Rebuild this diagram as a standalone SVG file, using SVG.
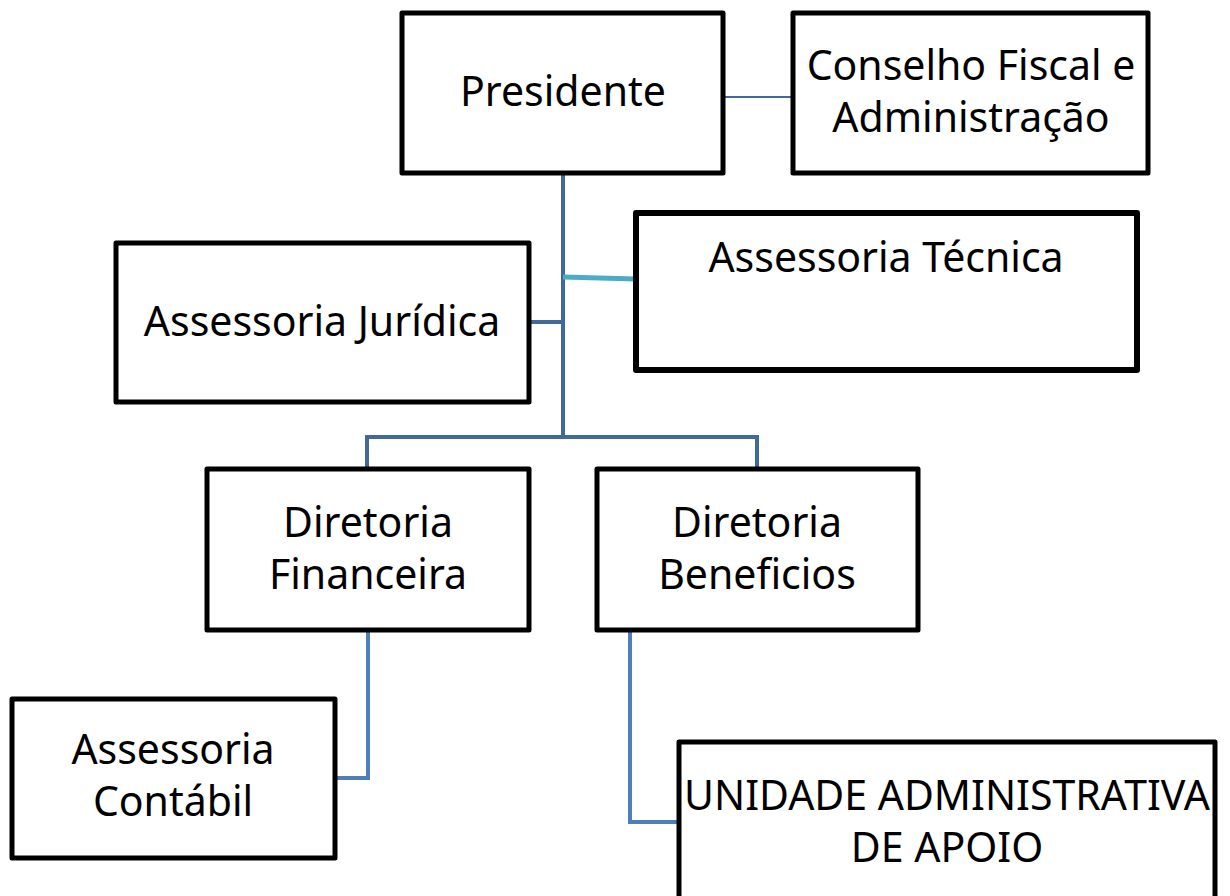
<svg xmlns="http://www.w3.org/2000/svg" width="1230" height="896" viewBox="0 0 1230 896">
<style>
.box{fill:#ffffff;stroke:#000000;stroke-width:5;stroke-linejoin:round}
.lbl{font-family:"Noto Sans","Open Sans",sans-serif;font-size:41px;fill:#000000;text-anchor:middle}
.c1{fill:none;stroke:#41699A;stroke-width:4}
.c2{fill:none;stroke:#4F7FBA;stroke-width:4}
.thin{fill:none;stroke:#41699A;stroke-width:2}
.teal{fill:none;stroke:#4BACC6;stroke-width:5}
</style>
<rect width="1230" height="896" fill="#ffffff"/>
<g id="connectors">
<line class="thin" x1="724" y1="97" x2="793" y2="97"/>
<line class="c1" x1="563" y1="174" x2="563" y2="437"/>
<line class="c1" x1="529" y1="322" x2="563" y2="322"/>
<line class="teal" x1="563" y1="277" x2="636" y2="279"/>
<polyline class="c1" points="367,468 367,437 757,437 757,468"/>
<polyline class="c2" points="368,632 368,778 335,778"/>
<polyline class="c2" points="630,632 630,822 679,822"/>
</g>
<g id="presidente">
<rect class="box" x="402" y="13" width="321" height="160"/>
<text class="lbl" x="563" y="106">Presidente</text>
</g>
<g id="conselho">
<rect class="box" x="793" y="13" width="355" height="160"/>
<text class="lbl" x="971" y="80">Conselho Fiscal e</text>
<text class="lbl" x="971" y="132">Administração</text>
</g>
<g id="juridica">
<rect class="box" x="116" y="243" width="413" height="159"/>
<text class="lbl" x="322" y="336">Assessoria Jurídica</text>
</g>
<g id="tecnica">
<rect class="box" x="636" y="213" width="501" height="157" style="stroke-width:6"/>
<text class="lbl" x="886" y="272">Assessoria Técnica</text>
</g>
<g id="financeira">
<rect class="box" x="207" y="469" width="322" height="161"/>
<text class="lbl" x="368" y="537">Diretoria</text>
<text class="lbl" x="368" y="589">Financeira</text>
</g>
<g id="beneficios">
<rect class="box" x="597" y="469" width="321" height="161"/>
<text class="lbl" x="757" y="537">Diretoria</text>
<text class="lbl" x="757" y="589">Beneficios</text>
</g>
<g id="contabil">
<rect class="box" x="12" y="699" width="323" height="159"/>
<text class="lbl" x="173" y="764">Assessoria</text>
<text class="lbl" x="173" y="816">Contábil</text>
</g>
<g id="unidade">
<rect class="box" x="679" y="742" width="536" height="170"/>
<text class="lbl" x="947" y="810">UNIDADE ADMINISTRATIVA</text>
<text class="lbl" x="947" y="862">DE APOIO</text>
</g>
</svg>
